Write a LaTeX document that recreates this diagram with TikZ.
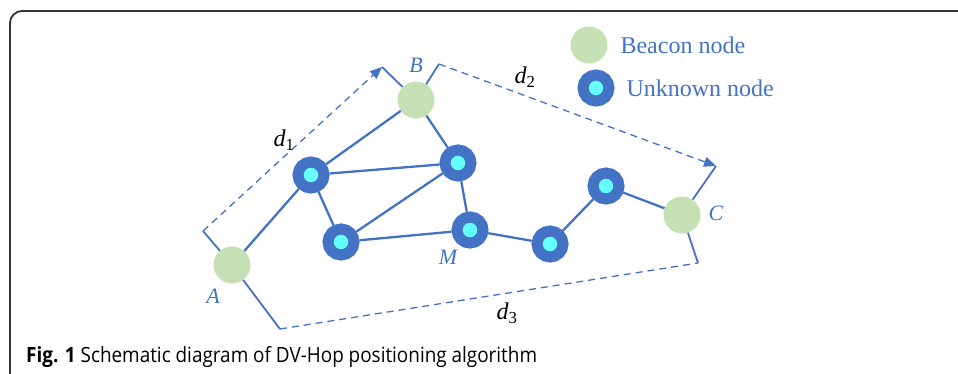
\documentclass[tikz,border=0pt]{standalone}
\usepackage{fontspec}
\setmainfont{Liberation Serif}
\newfontfamily\capfont[FakeStretch=0.9]{Open Sans}
\usetikzlibrary{arrows.meta}
\definecolor{hopblue}{HTML}{4472C4}
\definecolor{beacongreen}{HTML}{C5E0B4}
\definecolor{unkcyan}{HTML}{66FFFF}
\definecolor{framegray}{HTML}{333333}
\tikzset{
  beacon/.style={circle,fill=beacongreen,minimum size=37pt,inner sep=0pt},
  unknown/.style={circle,fill=unkcyan,draw=hopblue,line width=11pt,minimum size=26pt,inner sep=0pt},
  link/.style={draw=hopblue,line width=2.3pt},
  tickline/.style={draw=hopblue,line width=1.8pt},
  dimline/.style={draw=hopblue,line width=1.3pt,dash pattern=on 7pt off 5pt},
  tag/.style={text=hopblue,font=\fontsize{22}{24}\selectfont\itshape},
  dlabel/.style={font=\fontsize{24}{26}\selectfont},
  legendtext/.style={text=hopblue,font=\fontsize{24}{26}\selectfont,anchor=west}
}
\begin{document}
\begin{tikzpicture}[x=1pt,y=-1pt]
    \useasboundingbox (0,0) rectangle (958,373);
    % Frame round the figure
    \draw [line width=1.8pt,framegray,rounded corners=12pt] (10,390) -- (10,11) -- (975,11);%

    % Beacon nodes
    \node [beacon] (A) at (232,265) {};%
    \node [beacon] (B) at (416,100) {};%
    \node [beacon] (C) at (682,215) {};%

    % Unknown nodes
    \node [unknown] (u1) at (311,175) {};%
    \node [unknown] (u2) at (458,163) {};%
    \node [unknown] (u3) at (341,242) {};%
    \node [unknown] (M) at (470,230) {};%
    \node [unknown] (u5) at (550,244) {};%
    \node [unknown] (u6) at (606,186) {};%

    % Drawing hops
    \draw [link] (A) -- (u1);%
    \draw [link] (u1) -- (B);%
    \draw [link] (u1) -- (u2);%
    \draw [link] (u1) -- (u3);%
    \draw [link] (B) -- (u2);%
    \draw [link] (u3) -- (u2);%
    \draw [link] (u2) -- (M);%
    \draw [link] (u3) -- (M);%
    \draw [link] (M) -- (u5);%
    \draw [link] (u5) -- (u6);%
    \draw [link] (u6) -- (C);%

    % Marking names
    \node [tag] (labA) at (213,296) {A};%
    \node [tag] (labB) at (416,65) {B};%
    \node [tag] (labC) at (716,213) {C};%
    \node [tag] (labM) at (448,257) {M};%

    % Drawing distance d1
    \coordinate (a1) at (203,231);%
    \coordinate (b1) at (382,67);%
    \draw [tickline] (A) -- (a1);%
    \draw [tickline] (B) -- (b1);%
    \draw [dimline,-{Triangle[length=12pt,width=10pt]}] (a1) -- (b1);%
    \node [dlabel] (d1) at (284,140) {\textit{d}\textsubscript{1}};%

    % Drawing distance d2
    \coordinate (b2) at (439,64);%
    \coordinate (c2) at (716,166);%
    \draw [tickline] (B) -- (b2);%
    \draw [tickline] (C) -- (c2);%
    \draw [dimline,-{Triangle[length=12pt,width=10pt]}] (b2) -- (c2);%
    \node [dlabel] (d2) at (525,77) {\textit{d}\textsubscript{2}};%

    % Drawing distance d3
    \coordinate (a3) at (280,329);%
    \coordinate (c3) at (698,263);%
    \draw [tickline] (A) -- (a3);%
    \draw [tickline] (C) -- (c3);%
    \draw [dimline] (a3) -- (c3);%
    \node [dlabel] (d3) at (507,313) {\textit{d}\textsubscript{3}};%

    % Legend
    \node [beacon] (keyB) at (589,45) {};%
    \node [legendtext] (keyBtext) at (617,45) {Beacon node};%
    \node [unknown] (keyU) at (596,88) {};%
    \node [legendtext] (keyUtext) at (623,88) {Unknown node};%

    % Caption
    \node [anchor=west,font=\capfont\fontsize{21}{24}\selectfont,inner sep=0pt] (caption) at (26,357)
        {\textbf{Fig. 1} Schematic diagram of DV-Hop positioning algorithm};%
\end{tikzpicture}
\end{document}
